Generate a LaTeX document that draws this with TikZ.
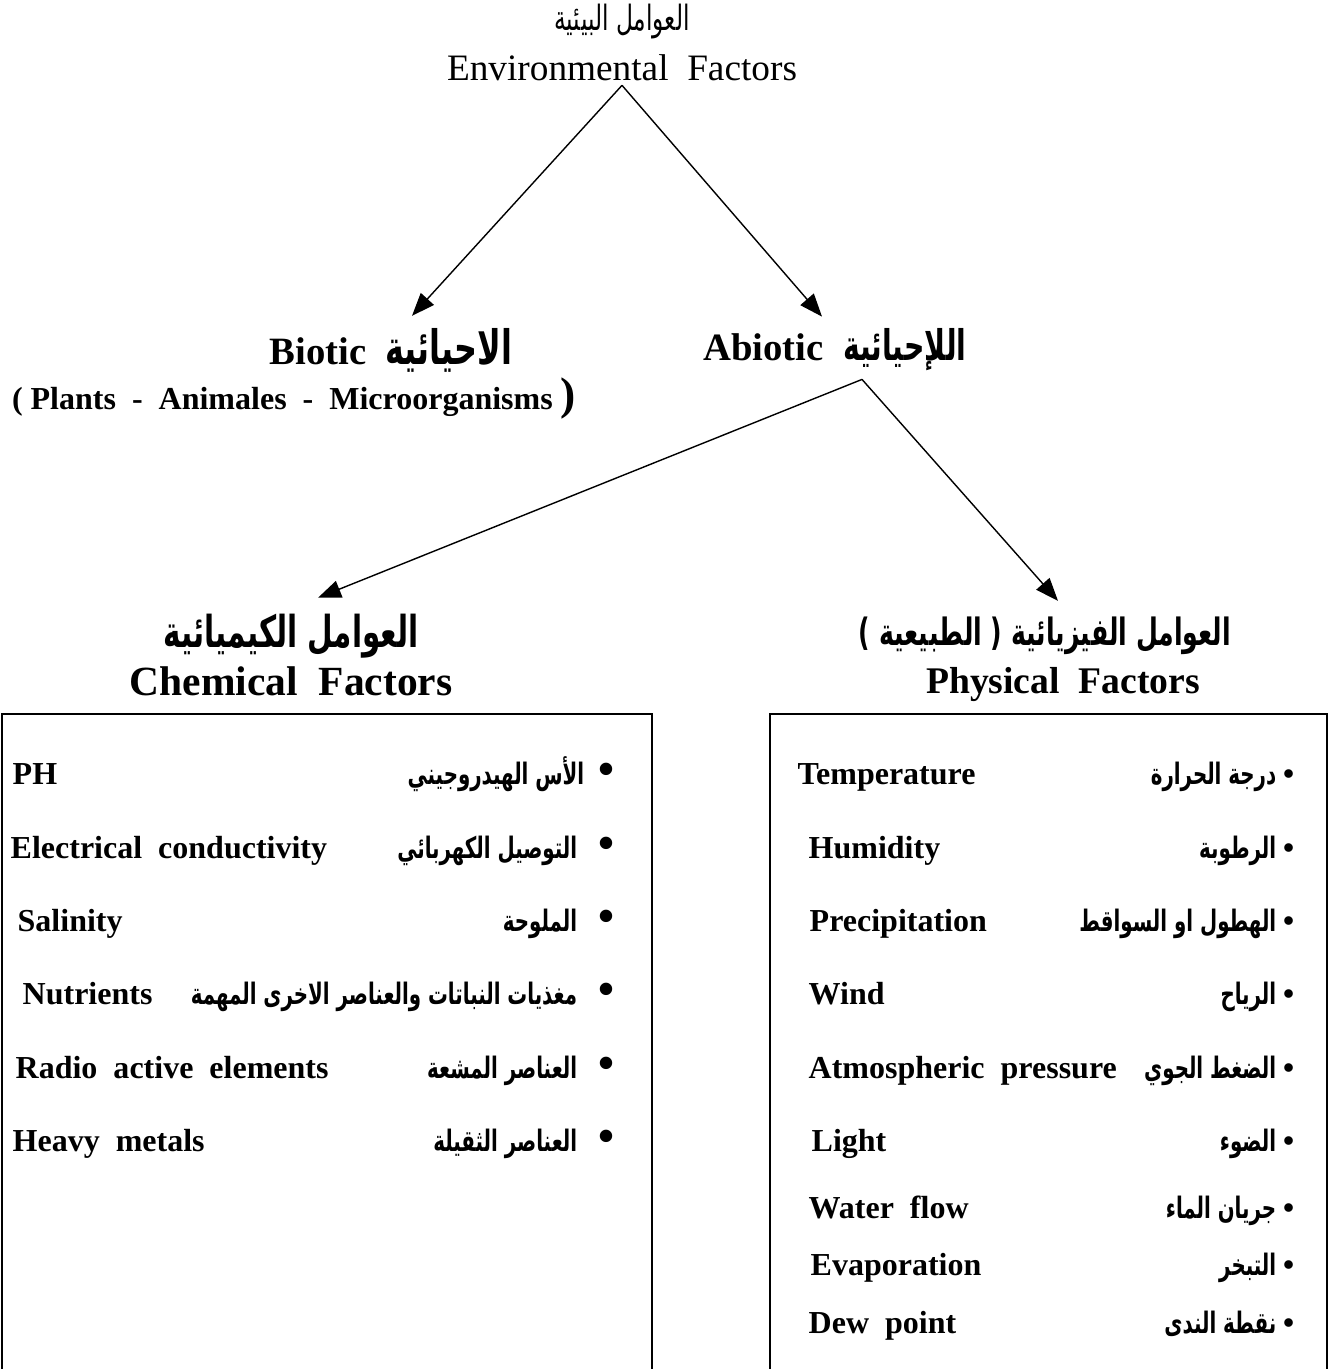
\documentclass[tikz,border=0pt]{standalone}
\usepackage{fontspec}
\setmainfont{Liberation Serif}
\newfontfamily\arabicfont[Script=Arabic,FakeStretch=0.67]{DejaVu Sans}
\TeXXeTstate=1
\usetikzlibrary{arrows.meta}
\newcommand{\arb}[1]{{\arabicfont\beginR #1\endR}}
\newcommand{\cbul}{{\fontsize{13}{13}\selectfont\textbullet}}
\newcommand{\pbul}{{\fontsize{9}{9}\selectfont\textbullet}}
\begin{document}
\begin{tikzpicture}[x=0.01cm,y=-0.01cm,
  ttl/.style={font=\fontsize{10.6}{12}\selectfont,inner sep=1pt},
  hd/.style={font=\fontsize{11}{13}\selectfont\bfseries,inner sep=1pt},
  itm/.style={font=\fontsize{9.1}{11}\selectfont\bfseries,inner sep=0pt},
  en/.style={itm,anchor=base west},
  ab/.style={itm,font=\fontsize{8.4}{10}\selectfont\bfseries,anchor=base east},
  arr/.style={-{Triangle[length=6.5pt,width=5pt]},line width=0.4pt},
  box/.style={line width=0.6pt}]
\useasboundingbox (0,0) rectangle (1330,1369);
\node[ttl] (envar) at (622,22) {{\fontsize{9.9}{11}\selectfont\arb{العوامل البيئية}}};
\node[ttl] (env) at (622,68) {Environmental\ \ Factors};
\node[hd] (bio) at (391,350) {Biotic\ \ {\fontsize{13.5}{15}\selectfont\arb{الاحيائية}}};
\node[hd] (abio) at (835,350) {Abiotic\ \ {\fontsize{12}{15}\selectfont\arb{اللإحيائية}}};
\node[itm] (bioex) at (294,398) {(\ Plants\ \ -\ \ Animales\ \ -\ \ Microorganisms\ {\fontsize{13}{13}\selectfont)}};
\draw[arr] (env.south) -- ([xshift=0.21cm,yshift=0.08cm]bio.north);
\draw[arr] (env.south) -- ([xshift=-0.13cm,yshift=0.08cm]abio.north);
\node[hd] (chemar) at (291,636) {{\fontsize{12.5}{15}\selectfont\arb{العوامل الكيميائية}}};
\node[hd,font=\fontsize{11.8}{13}\selectfont\bfseries] (chem) at (291,681) {Chemical\ \ Factors};
\node[hd] (physar) at (1045,636) {{\fontsize{10.7}{13}\selectfont\arb{العوامل الفيزيائية ( الطبيعية )}}};
\node[hd,font=\fontsize{10.7}{13}\selectfont\bfseries] (phys) at (1063,684) {Physical\ \ Factors};
\draw[arr] ([xshift=0.27cm,yshift=-0.04cm]abio.south) -- ([xshift=0.27cm,yshift=0.12cm]chemar.north);
\draw[arr] ([xshift=0.27cm,yshift=-0.04cm]abio.south) -- ([xshift=0.13cm,yshift=0.12cm]physar.north);
\draw[box] (2,1369) |- (652,714) -- (652,1369);
\draw[box] (770,1369) |- (1327,714) -- (1327,1369);
\node[en] (c1e) at (12,784) {PH};
\node[ab] (c1a) at (615,784) {\arb{الأس الهيدروجيني}\hspace{4pt}\cbul};
\node[en] (c2e) at (10,858) {Electrical\ \ conductivity};
\node[ab] (c2a) at (615,858) {\arb{التوصيل الكهربائي}\hspace{6pt}\cbul};
\node[en] (c3e) at (17,931) {Salinity};
\node[ab] (c3a) at (615,931) {\arb{الملوحة}\hspace{6pt}\cbul};
\node[en] (c4e) at (22,1004) {Nutrients};
\node[ab] (c4a) at (615,1004) {\arb{مغذيات النباتات والعناصر الاخرى المهمة}\hspace{6pt}\cbul};
\node[en] (c5e) at (15,1078) {Radio\ \ active\ \ elements};
\node[ab] (c5a) at (615,1078) {\arb{العناصر المشعة}\hspace{6pt}\cbul};
\node[en] (c6e) at (12,1151) {Heavy\ \ metals};
\node[ab] (c6a) at (615,1151) {\arb{العناصر الثقيلة}\hspace{6pt}\cbul};
\node[en] (p1e) at (797,784) {Temperature};
\node[ab] (p1a) at (1295,784) {\arb{درجة الحرارة}\hspace{2pt}\pbul};
\node[en] (p2e) at (808,858) {Humidity};
\node[ab] (p2a) at (1295,858) {\arb{الرطوبة}\hspace{2pt}\pbul};
\node[en] (p3e) at (809,931) {Precipitation};
\node[ab] (p3a) at (1295,931) {\arb{الهطول او السواقط}\hspace{2pt}\pbul};
\node[en] (p4e) at (808,1004) {Wind};
\node[ab] (p4a) at (1295,1004) {\arb{الرياح}\hspace{2pt}\pbul};
\node[en] (p5e) at (808,1078) {Atmospheric\ \ pressure};
\node[ab] (p5a) at (1295,1078) {\arb{الضغط الجوي}\hspace{2pt}\pbul};
\node[en] (p6e) at (811,1151) {Light};
\node[ab] (p6a) at (1295,1151) {\arb{الضوء}\hspace{2pt}\pbul};
\node[en] (p7e) at (808,1218) {Water\ \ flow};
\node[ab] (p7a) at (1295,1218) {\arb{جريان الماء}\hspace{2pt}\pbul};
\node[en] (p8e) at (810,1275) {Evaporation};
\node[ab] (p8a) at (1295,1275) {\arb{التبخر}\hspace{2pt}\pbul};
\node[en] (p9e) at (808,1333) {Dew\ \ point};
\node[ab] (p9a) at (1295,1333) {\arb{نقطة الندى}\hspace{2pt}\pbul};
\end{tikzpicture}
\end{document}
